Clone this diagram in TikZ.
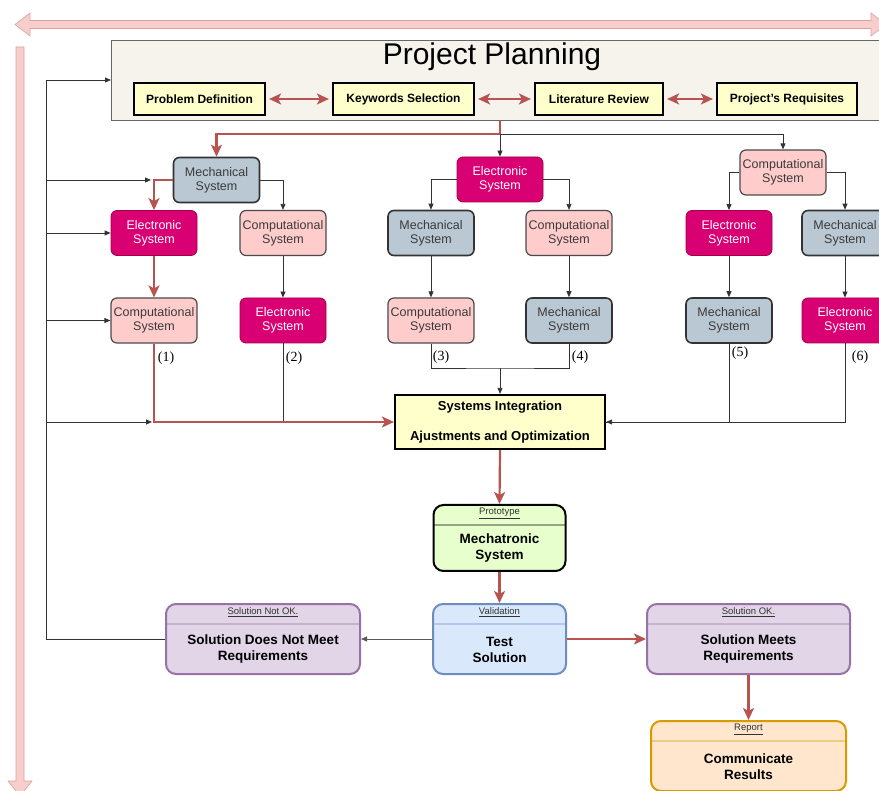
\documentclass[tikz,border=0pt]{standalone}
\usepackage{fontspec}
\setmainfont{Liberation Sans}
\newfontfamily\numfont{Liberation Serif}
\usetikzlibrary{arrows.meta,calc}

\definecolor{redline}{HTML}{B85450}
\definecolor{pinkfill}{HTML}{F8CECC}
\definecolor{ppfill}{HTML}{F5F3EC}
\definecolor{yellowfill}{HTML}{FFFFCC}
\definecolor{mechfill}{HTML}{BAC8D3}
\definecolor{mechtext}{HTML}{3A3A3A}
\definecolor{elecfill}{HTML}{D80073}
\definecolor{elecdraw}{HTML}{A50040}
\definecolor{compfill}{HTML}{FFCCCC}
\definecolor{compdraw}{HTML}{4A4A4A}
\definecolor{protofill}{HTML}{E6FFCC}
\definecolor{valfill}{HTML}{DAE8FC}
\definecolor{valdraw}{HTML}{6C8EBF}
\definecolor{lanefill}{HTML}{E1D5E7}
\definecolor{lanedraw}{HTML}{9673A6}
\definecolor{repfill}{HTML}{FFE6CC}
\definecolor{repdraw}{HTML}{D79B00}

\tikzset{
  sys/.style={rounded corners=6pt, minimum width=86pt, minimum height=45pt,
    align=center, inner sep=1pt, font=\fontsize{12.5}{14}\selectfont},
  mech/.style={sys, fill=mechfill, draw=black!80, line width=1.6pt, text=mechtext},
  elec/.style={sys, fill=elecfill, draw=elecdraw, line width=0.8pt, text=white},
  comp/.style={sys, fill=compfill, draw=compdraw, line width=1.2pt, text=mechtext},
  task/.style={fill=yellowfill, draw=black, line width=2.2pt, minimum height=32pt,
    inner sep=2pt, font=\bfseries\fontsize{12}{14}\selectfont},
  blk/.style={draw=black!80, line width=0.8pt},
  blkarrow/.style={blk, -{Triangle[length=6pt,width=5pt]}},
  redc/.style={draw=redline, line width=2.2pt},
  redarrow/.style={redc, -{Stealth[length=12pt,width=11pt,inset=3pt]}},
  redboth/.style={redc, {Stealth[length=12pt,width=11pt,inset=3pt]}-{Stealth[length=12pt,width=11pt,inset=3pt]}, shorten <=3pt, shorten >=3pt},
  hdrtext/.style={font=\fontsize{9.5}{11}\selectfont, text=black!80, inner sep=0pt},
  bodytext/.style={font=\bfseries\fontsize{13.5}{16}\selectfont, align=center, inner sep=0pt},
  numlabel/.style={font=\numfont\fontsize{14}{16}\selectfont, inner sep=0pt},
}

% rounded box with an underlined header band and a bold body text
% name, x, y, width, height, fill, border, header, body
\newcommand\lanebox[9]{%
  \node[rounded corners=10pt, fill=#6, draw=#7, line width=2pt,
        minimum width=#4pt, minimum height=#5pt] (#1) at (#2,#3) {};
  \draw[draw=#7, draw opacity=0.35, line width=1.2pt]
    ([yshift=-21pt,xshift=1pt]#1.north west) -- ([yshift=-21pt,xshift=-1pt]#1.north east);
  \node[hdrtext] at ([yshift=-9.5pt]#1.north) {\underline{#8}};
  \node[bodytext] at ($([yshift=-21pt]#1.north)!0.5!(#1.south)$) {#9};
}

\begin{document}
\begin{tikzpicture}[x=1pt,y=-1pt]
\useasboundingbox (0,0) rectangle (879,791);
\begin{scope}
\clip (0,0) rectangle (879,791);

% wide pink arrows along the top and the left side
\draw[fill=pinkfill, draw=redline!55, line width=0.6pt]
  (15,24.5) -- (30,13) -- (30,20.5) -- (871,20.5) -- (871,13) -- (886,24.5)
  -- (871,36) -- (871,28.5) -- (30,28.5) -- (30,36) -- cycle;
\draw[fill=pinkfill, draw=redline!55, line width=0.6pt]
  (16,47) -- (24,47) -- (24,781) -- (32,781) -- (20,796) -- (8,781) -- (16,781) -- cycle;

% project planning block
\node[fill=ppfill, draw=black!60, line width=1.4pt, anchor=north west,
      minimum width=800pt, minimum height=80pt, inner sep=0pt] (pp) at (111,40) {};
\node[font=\fontsize{30}{32}\selectfont, inner sep=0pt] (pptitle) at (492,57) {Project Planning};
\node[task, minimum width=131pt] (pd) at (199.5,99) {Problem Definition};
\node[task, minimum width=141pt] (ks) at (403.5,99) {Keywords Selection};
\node[task, minimum width=128pt] (lr) at (599,99) {Literature Review};
\node[task, minimum width=140pt] (pr) at (787,99) {Project's Requisites};
\draw[redboth] (pd.east) -- (ks.west);
\draw[redboth] (ks.east) -- (lr.west);
\draw[redboth] (lr.east) -- (pr.west);

% three orderings of the subsystems
\node[mech] (mechA) at (216.5,180) {Mechanical\\System};
\node[elec] (elecA) at (154,233) {Electronic\\System};
\node[comp] (compA) at (283,233) {Computational\\System};
\node[comp] (compA2) at (154,320.5) {Computational\\System};
\node[elec] (elecA2) at (283,320.5) {Electronic\\System};

\node[elec] (elecB) at (500,179.5) {Electronic\\System};
\node[mech] (mechB) at (431,233) {Mechanical\\System};
\node[comp] (compB) at (569,233) {Computational\\System};
\node[comp] (compB2) at (431,320.5) {Computational\\System};
\node[mech] (mechB2) at (569,320.5) {Mechanical\\System};

\node[comp] (compC) at (783,172.5) {Computational\\System};
\node[elec] (elecC) at (729,233) {Electronic\\System};
\node[mech] (mechC) at (845,233) {Mechanical\\System};
\node[mech] (mechC2) at (729,320.5) {Mechanical\\System};
\node[elec] (elecC2) at (845,320.5) {Electronic\\System};

\node[numlabel] at (166,358) {(1)};
\node[numlabel] at (294,358) {(2)};
\node[numlabel] at (441,357.5) {(3)};
\node[numlabel] at (580,357) {(4)};
\node[numlabel] at (740,353) {(5)};
\node[numlabel] at (860,357) {(6)};

% integration and validation chain
\node[fill=yellowfill, draw=black, line width=2.2pt, minimum width=210pt, minimum height=54pt,
      align=center, inner sep=0pt, font=\bfseries\fontsize{13}{15}\selectfont] (si) at (500,422)
      {Systems Integration\\[15pt]Ajustments and Optimization};

\lanebox{proto}{499.5}{538}{132}{66}{protofill}{black}{Prototype}{Mechatronic\\System}
\lanebox{test}{499.5}{639}{133}{70}{valfill}{valdraw}{Validation}{Test\\Solution}
\lanebox{notok}{263}{639}{194}{70}{lanefill}{lanedraw}{Solution Not OK.}{Solution Does Not Meet\\Requirements}
\lanebox{okay}{748.5}{639}{203}{70}{lanefill}{lanedraw}{Solution OK.}{Solution Meets\\Requirements}
\lanebox{report}{748.5}{756}{195}{70}{repfill}{repdraw}{Report}{Communicate\\Results}

% connectors from the planning block
\coordinate (ppout) at (500,120);
\coordinate (split) at (500,134);
\draw[redc] (ppout) -- (split);
\draw[redarrow] (split) -| (mechA.north);
\draw[blkarrow] (split) -- (elecB.north);
\draw[blkarrow] (split) -| (compC.north);

% first ordering
\draw[redarrow] (mechA.west) -| (elecA.north);
\draw[blkarrow] (mechA.east) -| (compA.north);
\draw[redarrow] (elecA.south) -- (compA2.north);
\draw[blkarrow] (compA.south) -- (elecA2.north);

% second ordering
\draw[blkarrow] (elecB.west) -| (mechB.north);
\draw[blkarrow] (elecB.east) -| (compB.north);
\draw[blkarrow] (mechB.south) -- (compB2.north);
\draw[blkarrow] (compB.south) -- (mechB2.north);

% third ordering
\draw[blkarrow] (compC.west) -| (elecC.north);
\draw[blkarrow] (compC.east) -| (mechC.north);
\draw[blkarrow] (elecC.south) -- (mechC2.north);
\draw[blkarrow] (mechC.south) -- (elecC2.north);

% into systems integration
\coordinate (join34) at (500,368);
\draw[blk] (elecA2.south) -- (elecA2.south |- si.west);
\draw[redarrow] (compA2.south) |- (si.west);
\draw[blk] (compB2.south) |- (join34) -| (mechB2.south);
\draw[blkarrow] (join34) -- (si.north);
\draw[blk] (elecC2.south) |- (si.east);
\draw[blkarrow] (mechC2.south) |- (si.east);

\draw[redarrow] (si.south) -- (proto.north);
\draw[redarrow] (proto.south) -- (test.north);
\draw[redarrow] (test.east) -- (okay.west);
\draw[redarrow] (okay.south) -- (report.north);
\draw[blkarrow, draw=black!65] (test.west) -- (notok.east);

% feedback loop back to planning
\coordinate (fbtop) at (46,80);
\coordinate (fbbot) at (46,639);
\draw[blkarrow] (notok.west) -- (fbbot) -- (fbtop) -- (pp.west |- fbtop);
\draw[blkarrow] (fbtop |- mechA.west) -- ([xshift=-3pt]elecA.north |- mechA.west);
\draw[blkarrow] (fbtop |- elecA.west) -- (elecA.west);
\draw[blkarrow] (fbtop |- compA2.west) -- (compA2.west);
\draw[blkarrow] (fbtop |- si.west) -- ([xshift=-2pt]compA2.south |- si.west);

\end{scope}
\end{tikzpicture}
\end{document}
